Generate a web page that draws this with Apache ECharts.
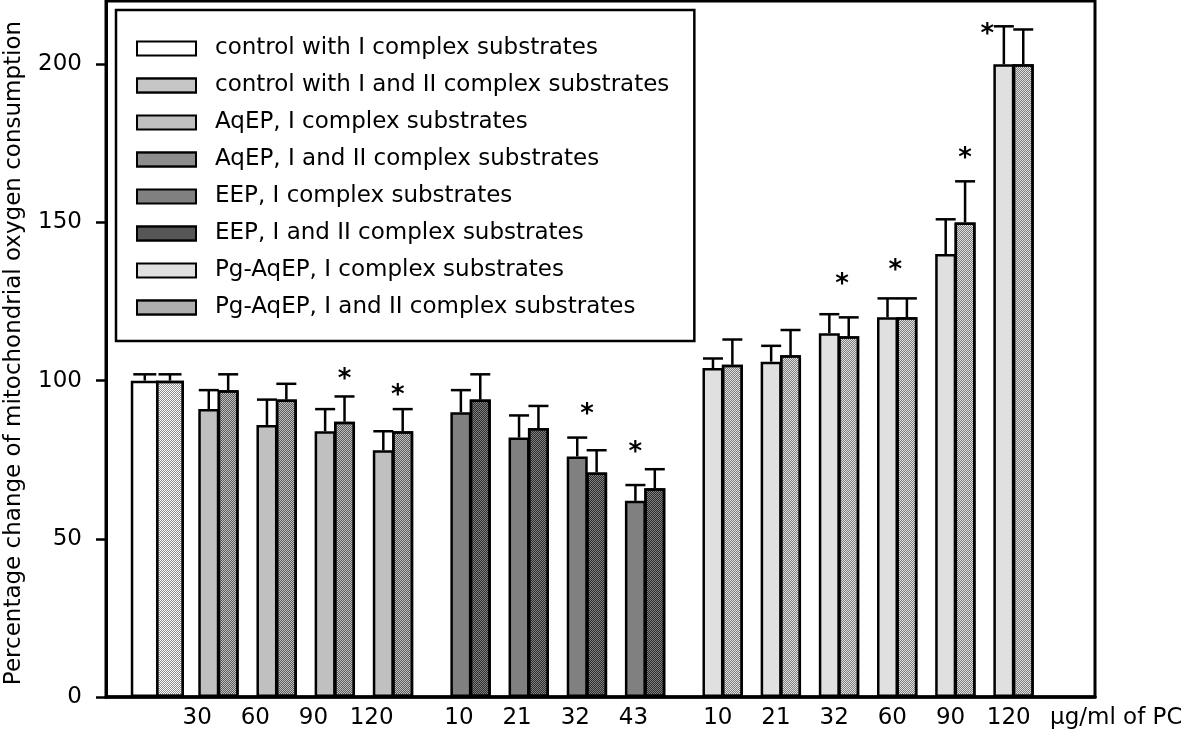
<!DOCTYPE html>
<html>
<head>
<meta charset="utf-8">
<script src="https://cdn.jsdelivr.net/npm/echarts@6/dist/echarts.min.js"></script>
<style>
html,body{margin:0;padding:0;background:#fff;}
#chart{width:1181px;height:738px;}
</style>
</head>
<body>
<div id="chart"></div>
<script>
// ---------------- data ----------------
const seriesNames = [
  'control with I complex substrates',
  'control with I and II complex substrates',
  'AqEP, I complex substrates',
  'AqEP, I and II complex substrates',
  'EEP, I complex substrates',
  'EEP, I and II complex substrates',
  'Pg-AqEP, I complex substrates',
  'Pg-AqEP, I and II complex substrates'
];
const aqepDoses = ['30', '60', '90', '120'];
const eepDoses  = ['10', '21', '32', '43'];
const pgDoses   = ['10', '21', '32', '60', '90', '120'];
const doseUnit  = 'μg/ml of PC';
const yTicks    = [0, 50, 100, 150, 200];
const yTitle    = 'Percentage change of mitochondrial oxygen consumption';

const controlI      = [100];
const controlI_sd   = [2];
const controlII     = [100];
const controlII_sd  = [2];

const aqepI      = [91, 86, 84, 78];
const aqepI_sd   = [6, 8, 7, 6];
const aqepII     = [97, 94, 87, 84];
const aqepII_sd  = [5, 5, 8, 7];

const eepI       = [90, 82, 76, 62];
const eepI_sd    = [7, 7, 6, 5];
const eepII      = [94, 85, 71, 66];
const eepII_sd   = [8, 7, 7, 6];

const pgI        = [104, 106, 115, 120, 140, 200];
const pgI_sd     = [3, 5, 6, 6, 11, 12];
const pgII       = [105, 108, 114, 120, 150, 200];
const pgII_sd    = [8, 8, 6, 6, 13, 11];

// significance marks: group, dose index, place across the pair (0 = I bar, 1 = I+II bar), height
const starGroup = ['AqEP', 'AqEP', 'EEP', 'EEP', 'Pg', 'Pg', 'Pg', 'Pg'];
const starDose  = [2, 3, 2, 3, 2, 3, 4, 5];
const starPlace = [1, 0.75, 0.5, 0, 0.65, 0.4, 1, -0.85];
const starValue = [102, 97, 91, 79, 132, 136.5, 172, 211];

// ---------------- layout (axis units) ----------------
const X_MIN = 0, X_MAX = 51;
const CTRL_I_X = 2.0, CTRL_II_X = 3.3;
const FIRST_X = 5.3, PAIR_STEP = 3, GROUP_GAP = 1;
const FONT = 'DejaVu Sans';

const groups = [
  {key: 'AqEP', doses: aqepDoses, I: aqepI, Isd: aqepI_sd, II: aqepII, IIsd: aqepII_sd, nI: 2, nII: 3, labelShift: -1.1},
  {key: 'EEP',  doses: eepDoses,  I: eepI,  Isd: eepI_sd,  II: eepII,  IIsd: eepII_sd,  nI: 4, nII: 5, labelShift: -0.6},
  {key: 'Pg',   doses: pgDoses,   I: pgI,   Isd: pgI_sd,   II: pgII,   IIsd: pgII_sd,   nI: 6, nII: 7, labelShift: -0.25}
];
let cursor = FIRST_X;
groups.forEach(g => {
  g.xs = g.doses.map((d, i) => cursor + PAIR_STEP * i);
  cursor += PAIR_STEP * g.doses.length + GROUP_GAP;
});
const groupByKey = {};
groups.forEach(g => groupByKey[g.key] = g);

// x-axis labels
const labelValues = [];
const labelMap = {};
groups.forEach(g => {
  g.xs.forEach((x, i) => {
    const v = +(x + 0.5 + g.labelShift).toFixed(2);
    labelValues.push(v);
    labelMap[v.toFixed(2)] = g.doses[i];
  });
});

// fills
const styles = [
  {fill: '#ffffff'},
  {fill: '#ffffff', dots: '#8c8c8c'},
  {fill: '#c0c0c0'},
  {fill: '#c0c0c0', dots: '#5a5a5a'},
  {fill: '#808080'},
  {fill: '#808080', dots: '#2c2c2c'},
  {fill: '#e0e0e0'},
  {fill: '#e0e0e0', dots: '#7c7c7c'}
];

function itemStyleFor(i) {
  const s = styles[i];
  const st = {color: s.fill, borderColor: '#000', borderWidth: 2.5};
  if (s.dots) {
    st.decal = {symbol: 'rect', symbolSize: 1, dashArrayX: [[1, 1], [0, 1, 1, 0]], dashArrayY: [1, 0],
                rotation: 0, color: s.dots};
  }
  return st;
}

// axes: 0 = visible axis (I bars), 1 = I+II bars, 2 = control I, 3 = control II (hidden, same scale)
const AX_I = 0, AX_II = 1, AX_CI = 2, AX_CII = 3;
const series = [];
const errData = [];
const NORMAL_W = 21, CTRL_W = 28;

function bar(nameIdx, axis, data, width) {
  return {type: 'bar', name: seriesNames[nameIdx], xAxisIndex: axis, stack: 'ax' + axis,
    barWidth: width, barMaxWidth: 100, data: data, itemStyle: itemStyleFor(nameIdx), z: 2,
    emphasis: {disabled: true}};
}

series.push(bar(0, AX_CI, controlI.map(v => [CTRL_I_X, v]), CTRL_W));
series.push(bar(1, AX_CII, controlII.map(v => [CTRL_II_X, v]), CTRL_W));
controlI.forEach((v, i) => errData.push([CTRL_I_X, v, controlI_sd[i], 23]));
controlII.forEach((v, i) => errData.push([CTRL_II_X, v, controlII_sd[i], 23]));

groups.forEach(g => {
  series.push(bar(g.nI, AX_I, g.I.map((v, i) => [g.xs[i], v]), NORMAL_W));
  series.push(bar(g.nII, AX_II, g.II.map((v, i) => [g.xs[i] + 1, v]), NORMAL_W));
  g.I.forEach((v, i) => errData.push([g.xs[i], v, g.Isd[i], 20]));
  g.II.forEach((v, i) => errData.push([g.xs[i] + 1, v, g.IIsd[i], 20]));
});

// error bars
series.push({
  type: 'custom', xAxisIndex: 0, z: 5, silent: true,
  data: errData,
  encode: {x: 0, y: 1},
  renderItem: function (params, api) {
    const x = api.value(0), v = api.value(1), sd = api.value(2), cap = api.value(3);
    const p0 = api.coord([x, v]);
    const p1 = api.coord([x, v + sd]);
    return {type: 'group', children: [
      {type: 'line', shape: {x1: p0[0], y1: p0[1], x2: p1[0], y2: p1[1]}, style: {stroke: '#000', lineWidth: 2.5}},
      {type: 'line', shape: {x1: p1[0] - cap / 2, y1: p1[1], x2: p1[0] + cap / 2, y2: p1[1]}, style: {stroke: '#000', lineWidth: 2.5}}
    ]};
  }
});

// significance asterisks
const starData = starGroup.map((gk, i) => [groupByKey[gk].xs[starDose[i]] + starPlace[i], starValue[i]]);
series.push({
  type: 'custom', xAxisIndex: 0, z: 6, silent: true,
  data: starData,
  encode: {x: 0, y: 1},
  renderItem: function (params, api) {
    const p = api.coord([api.value(0), api.value(1)]);
    return {type: 'text', x: p[0], y: p[1] + 6, style: {
      text: '*', align: 'center', verticalAlign: 'middle',
      font: 'bold 26px "DejaVu Sans"', fill: '#000'}};
  }
});

const hiddenX = {type: 'value', min: X_MIN, max: X_MAX, show: false};

const chart = echarts.init(document.getElementById('chart'), null, {renderer: 'canvas'});
chart.setOption({
  animation: false,
  backgroundColor: '#fff',
  grid: {left: 106, right: 86, top: 1, bottom: 41, show: true, borderColor: '#000', borderWidth: 3,
         backgroundColor: 'transparent', containLabel: false, outerBoundsMode: 'none'},
  legend: {
    orient: 'vertical', left: 116, top: 10,
    padding: [27, 25, 22, 20],
    itemWidth: 59, itemHeight: 14, itemGap: 14,
    icon: 'rect', selectedMode: false,
    borderColor: '#000', borderWidth: 2.5, backgroundColor: '#fff',
    itemStyle: {borderColor: '#000', borderWidth: 2},
    textStyle: {fontFamily: FONT, fontSize: 23, color: '#000', padding: [0, 0, 0, 14]},
    data: seriesNames
  },
  xAxis: [
    {type: 'value', min: X_MIN, max: X_MAX, position: 'bottom',
     axisLine: {show: true, onZero: false, lineStyle: {color: '#000', width: 3.5}},
     axisTick: {show: false}, splitLine: {show: false},
     axisLabel: {customValues: labelValues, margin: 10, fontFamily: FONT, fontSize: 23, color: '#000',
       formatter: function (v) { return labelMap[(+v).toFixed(2)] || ''; }},
     name: doseUnit, nameLocation: 'end', nameGap: -45,
     nameTextStyle: {fontFamily: FONT, fontSize: 23, color: '#000', align: 'left', verticalAlign: 'top', padding: [10, 0, 0, 0]}
    },
    Object.assign({}, hiddenX),
    Object.assign({}, hiddenX),
    Object.assign({}, hiddenX)
  ],
  yAxis: {
    type: 'value', min: 0, max: 220, interval: 50,
    axisLine: {show: true, lineStyle: {color: '#000', width: 3}},
    axisTick: {show: true, inside: false, length: 10, customValues: yTicks, lineStyle: {color: '#000', width: 2.5}},
    axisLabel: {customValues: yTicks, margin: 24, fontFamily: FONT, fontSize: 23, color: '#000'},
    splitLine: {show: false},
    name: yTitle, nameLocation: 'middle', nameGap: 80,
    nameTextStyle: {fontFamily: FONT, fontSize: 23, color: '#000', padding: [0, 8, 0, 0]}
  },
  series: series
});
</script>
</body>
</html>
